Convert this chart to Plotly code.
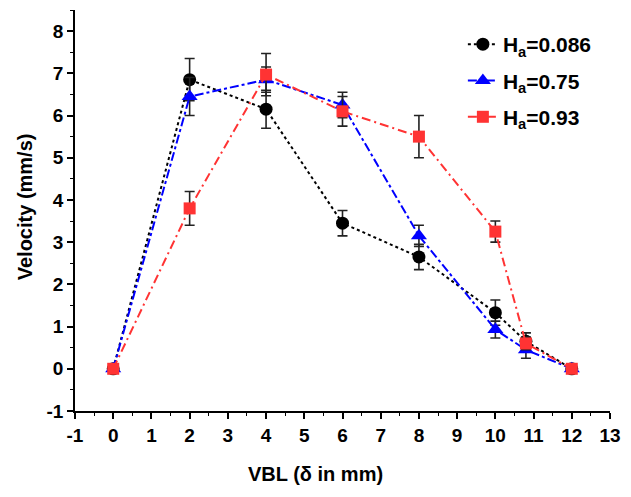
import plotly.graph_objects as go

x_vals = [0, 2, 4, 6, 8, 10, 10.8, 12]

y_086 = [0, 6.85, 6.15, 3.45, 2.65, 1.33, 0.65, 0]
e_086 = [0, 0.5, 0.45, 0.3, 0.3, 0.3, 0.2, 0]

y_075 = [0, 6.45, 6.85, 6.25, 3.15, 0.93, 0.45, 0]
e_075 = [0, 0.45, 0.3, 0.3, 0.25, 0.2, 0.2, 0]

y_093 = [0, 3.8, 6.97, 6.1, 5.5, 3.25, 0.6, 0]
e_093 = [0, 0.4, 0.5, 0.35, 0.5, 0.25, 0.15, 0]

names = ["H<sub>a</sub>=0.086", "H<sub>a</sub>=0.75", "H<sub>a</sub>=0.93"]

x_ticks = list(range(-1, 14))
x_ticktext = [str(v) for v in x_ticks]
y_ticks = list(range(-1, 9))
y_ticktext = [str(v) for v in y_ticks]

x_title = "VBL (δ in mm)"
y_title = "Velocity (mm/s)"

fig = go.Figure()

def add(y, e, name, color, dash, symbol, size, grp):
    fig.add_trace(go.Scatter(
        x=x_vals, y=y, name=name, mode="lines+markers", legendgroup=grp,
        line=dict(color=color, dash=dash, width=2),
        marker=dict(color=color, symbol=symbol, size=size),
        error_y=dict(type="data", array=e, visible=True, color="#222222",
                     thickness=1.6, width=5),
    ))

add(y_086, e_086, names[0], "black", "dot", "circle", 13, "a")
add(y_075, e_075, names[1], "#0000ff", "dashdot", "triangle-up", 14, "b")
add(y_093, e_093, names[2], "#ff3333", "9px,4px,2px,4px", "square", 12, "c")

FAM = "Liberation Sans, Arial, sans-serif"

fig.update_layout(
    width=631, height=497,
    margin=dict(l=75, r=15, t=10, b=86),
    paper_bgcolor="white", plot_bgcolor="white",
    font=dict(family=FAM, size=18, color="black"),
    showlegend=True,
    legend=dict(x=0.725, y=0.965, xanchor="left", yanchor="top",
                font=dict(size=21, family=FAM, color="black", weight="bold"),
                bgcolor="rgba(0,0,0,0)", tracegroupgap=6),
    xaxis=dict(
        range=[-1, 13], tickmode="array", tickvals=x_ticks, ticktext=x_ticktext,
        showgrid=False, zeroline=False, showline=True, linecolor="black", linewidth=1.5,
        ticks="outside", ticklen=6, tickwidth=1.5, tickcolor="black",
        tickfont=dict(size=19, weight="bold"),
        minor=dict(dtick=0.5, tick0=-1, ticks="outside", ticklen=3, tickwidth=1.2, tickcolor="black"),
    ),
    yaxis=dict(
        range=[-1, 8.5], tickmode="array", tickvals=y_ticks, ticktext=y_ticktext,
        showgrid=False, zeroline=False, showline=True, linecolor="black", linewidth=1.5,
        ticks="outside", ticklen=6, tickwidth=1.5, tickcolor="black",
        tickfont=dict(size=19, weight="bold"),
        minor=dict(dtick=0.5, tick0=-1, ticks="outside", ticklen=3, tickwidth=1.2, tickcolor="black"),
    ),
    annotations=[
        dict(text=x_title, xref="paper", yref="paper", x=0.449, y=-0.157,
             xanchor="center", yanchor="middle", showarrow=False,
             font=dict(size=20, weight="bold", family=FAM, color="black")),
        dict(text=y_title, xref="paper", yref="paper", x=-0.092, y=0.51,
             xanchor="center", yanchor="middle", showarrow=False, textangle=-90,
             font=dict(size=20, weight="bold", family=FAM, color="black")),
    ],
)

fig.write_html("out.html")
